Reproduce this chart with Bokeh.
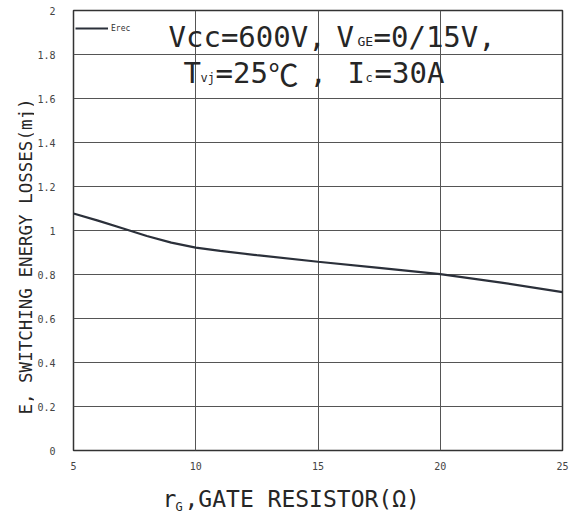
import math
from bokeh.plotting import figure
from bokeh.models import Range1d, Label, FixedTicker
from bokeh.layouts import row, column
from bokeh.embed import file_html
from bokeh.resources import INLINE

# ---- data ----
rg = [5, 6, 7, 8, 9, 10, 11, 12.5, 15, 17.5, 20, 22.5, 25]
erec = [1.077, 1.045, 1.01, 0.975, 0.945, 0.922, 0.907, 0.888, 0.858, 0.83, 0.802, 0.763, 0.72]
x_ticks = [5, 10, 15, 20, 25]
y_ticks = [0, 0.2, 0.4, 0.6, 0.8, 1.0, 1.2, 1.4, 1.6, 1.8, 2.0]
y_tick_labels = {0: "0", 0.2: "0.2", 0.4: "0.4", 0.6: "0.6", 0.8: "0.8", 1.0: "1",
                 1.2: "1.2", 1.4: "1.4", 1.6: "1.6", 1.8: "1.8", 2.0: "2"}

MONO = "DejaVu Sans Mono"
TXT = "#262626"

# layout in page pixels
YW = 34            # width of left strip holding the y title
MAIN_W, MAIN_H = 582 - YW, 476
XH = 36            # height of the strip holding the x title
L, R, T, B = 73, 562, 10, 450   # plot frame (page pixels)
X0, X1, Y0, Y1 = 5, 25, 0, 2
BL, BR, BT, BB = L - YW, MAIN_W - (R - YW), T, MAIN_H - B

def dx(px):
    return X0 + (px - L) / (R - L) * (X1 - X0)

def dy(py):
    return Y0 + (B - py) / (B - T) * (Y1 - Y0)

p = figure(width=MAIN_W, height=MAIN_H, output_backend="svg", toolbar_location=None,
           title=None, x_range=Range1d(X0, X1), y_range=Range1d(Y0, Y1),
           min_border_left=BL, min_border_right=BR, min_border_top=BT,
           min_border_bottom=BB)

p.line(rg, erec, line_color="#2b303a", line_width=2.2, legend_label="Erec")

for ax in (p.xaxis[0], p.yaxis[0]):
    ax.axis_line_color = None
    ax.major_tick_line_color = None
    ax.minor_tick_line_color = None
    ax.major_tick_out = 0
    ax.major_tick_in = 0
    ax.minor_tick_out = 0
    ax.minor_tick_in = 0
    ax.major_label_text_font = MONO
    ax.major_label_text_font_size = "10px"
    ax.major_label_text_color = "#444444"

p.xaxis.ticker = FixedTicker(ticks=x_ticks)
p.yaxis.ticker = FixedTicker(ticks=y_ticks)
p.yaxis.major_label_overrides = y_tick_labels
p.xaxis.major_label_standoff = 11
p.yaxis.major_label_standoff = 18

p.xgrid.ticker = FixedTicker(ticks=x_ticks)
p.ygrid.ticker = FixedTicker(ticks=y_ticks)
for g in (p.xgrid[0], p.ygrid[0]):
    g.grid_line_color = "#555555"
    g.grid_line_width = 1

p.outline_line_color = "#333333"
p.outline_line_width = 1.5
p.background_fill_color = "white"
p.border_fill_color = "white"

lg = p.legend[0]
lg.location = "top_left"
lg.border_line_color = None
lg.background_fill_alpha = 0
lg.margin = 2
lg.padding = 2
lg.glyph_width = 33
lg.glyph_height = 32
lg.label_height = 32
lg.label_standoff = 3
lg.label_text_font = MONO
lg.label_text_font_size = "8px"
lg.label_text_color = "#333333"


def put(fig, text, x, y, size, font=MONO, align="left", angle=0.0):
    fig.add_layout(Label(x=x, y=y, text=text, text_font=font,
                         text_font_size=f"{size}px", text_color=TXT,
                         text_align=align, text_baseline="middle", angle=angle))

def cond(text, px, py, size, font=MONO):
    put(p, text, dx(px), dy(py), size, font)

# condition annotation inside the plot (y = vertical centre of the text)
cond("Vcc=600V,", 168, 36, 29)
cond("V", 336, 36, 29)
cond("GE", 357, 41, 13)
cond("=0/15V,", 373, 36, 29)
cond("T", 183, 72, 29)
cond("vj", 200, 77, 12)
cond("=25", 215, 72, 29)
cond("℃", 268, 72, 30, font="Noto Sans CJK SC")
cond(",", 309, 72, 29)
cond("I", 347, 72, 29)
cond("c", 365, 77, 12)
cond("=30A", 374, 72, 29)


def blank(w, h, bl, br, bt, bb, xr, yr):
    f = figure(width=w, height=h, output_backend="svg", toolbar_location=None,
               title=None, x_range=Range1d(*xr), y_range=Range1d(*yr),
               x_axis_type=None, y_axis_type=None,
               min_border_left=bl, min_border_right=br, min_border_top=bt,
               min_border_bottom=bb)
    f.grid.visible = False
    f.outline_line_color = None
    f.background_fill_color = "white"
    f.border_fill_color = "white"
    return f

# y title strip (left of the chart); ranges are page pixels of its frame
yfig = blank(YW, MAIN_H, 0, 0, BT, BB, (0, YW), (B, T))
put(yfig, "E, SWITCHING ENERGY LOSSES(mj)", 25, 256, 17.5,
    align="center", angle=math.pi / 2)

# x title strip (below the chart); ranges are page pixels of its frame
xfig = blank(MAIN_W, XH, BL, BR, 0, 0, (L, R), (MAIN_H + XH, MAIN_H))
put(xfig, "r", 162, 498, 23)
put(xfig, "G", 175, 506, 12)
put(xfig, ",GATE RESISTOR(Ω)", 184, 498, 23)

layout = row(yfig, column(p, xfig, spacing=0), spacing=0)

open("out.html", "w").write(file_html(layout, INLINE))
